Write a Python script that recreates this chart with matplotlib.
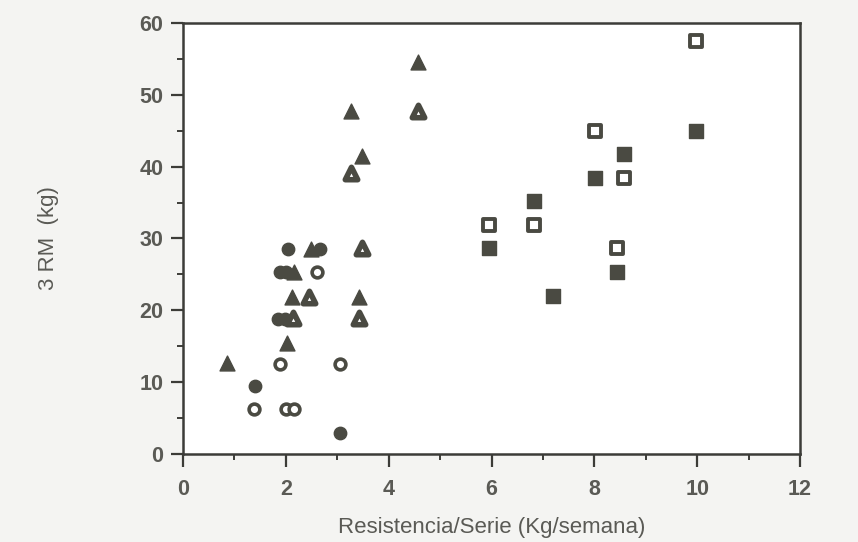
import matplotlib.pyplot as plt
from matplotlib.ticker import MultipleLocator

plt.rcParams['font.family'] = ['Liberation Sans', 'DejaVu Sans']

ink = '#4a4a42'
txt = '#5a5a55'

# filled circles
fc_x = [2.04, 2.67, 1.88, 2.0, 1.85, 1.98, 1.40, 3.05]
fc_y = [28.6, 28.6, 25.3, 25.3, 18.8, 18.8, 9.4, 2.9]
# open circles
oc_x = [2.6, 1.89, 3.05, 1.38, 2.0, 2.15]
oc_y = [25.3, 12.5, 12.5, 6.3, 6.3, 6.3]
# filled triangles
ft_x = [0.86, 4.57, 3.26, 3.48, 3.42, 2.02, 2.49, 2.15, 2.12]
ft_y = [12.6, 54.5, 47.8, 41.5, 21.9, 15.4, 28.6, 25.3, 21.9]
# open triangles
ot_x = [4.57, 3.26, 3.48, 3.42, 2.45, 2.13]
ot_y = [47.8, 39.1, 28.7, 18.9, 21.9, 18.9]
# filled squares
fs_x = [9.98, 8.58, 8.02, 6.82, 5.96, 8.44, 7.19]
fs_y = [44.9, 41.7, 38.4, 35.2, 28.7, 25.3, 22.0]
# open squares
os_x = [9.98, 8.02, 8.57, 5.96, 6.82, 8.44]
os_y = [57.5, 45.0, 38.4, 31.9, 31.9, 28.7]

fig = plt.figure(figsize=(8.58, 5.42), dpi=100, facecolor='#f4f4f2')
ax = fig.add_axes([0.2133, 0.1624, 0.7191, 0.7952])
ax.set_facecolor('white')

ax.scatter(fc_x, fc_y, s=80, marker='o', c=ink, edgecolors=ink, linewidths=1, zorder=3)
ax.scatter(oc_x, oc_y, s=60, marker='o', c='white', edgecolors=ink, linewidths=2.6, zorder=3)
ax.scatter(ft_x, ft_y, s=115, marker='^', c=ink, edgecolors=ink, linewidths=1, zorder=3)
ax.scatter(ot_x, ot_y, s=80, marker='^', c='white', edgecolors=ink, linewidths=4, zorder=3)
ax.scatter(fs_x, fs_y, s=110, marker='s', c=ink, edgecolors=ink, linewidths=1, zorder=3)
ax.scatter(os_x, os_y, s=85, marker='s', c='white', edgecolors=ink, linewidths=2.8, zorder=3)

ax.set_xlim(0, 12)
ax.set_ylim(0, 60)
ax.xaxis.set_major_locator(MultipleLocator(2))
ax.xaxis.set_minor_locator(MultipleLocator(1))
ax.yaxis.set_major_locator(MultipleLocator(10))
ax.yaxis.set_minor_locator(MultipleLocator(5))

for s in ax.spines.values():
    s.set_color('#3c3c38')
    s.set_linewidth(1.8)

ax.tick_params(which='major', direction='out', length=9, width=1.6, color='#3c3c38',
               labelsize=15.5, labelcolor=txt)
ax.tick_params(axis='x', which='major', pad=9)
ax.tick_params(axis='y', which='major', pad=5)
ax.tick_params(which='minor', direction='out', length=4, width=1.4, color='#3c3c38')
for lab in ax.get_xticklabels() + ax.get_yticklabels():
    lab.set_fontweight('bold')

ax.set_xlabel('Resistencia/Serie (Kg/semana)', fontsize=16, color=txt, labelpad=12)
ax.set_ylabel('3 RM  (kg)', fontsize=16, color=txt, labelpad=58)

fig.savefig('out.png', dpi=100, facecolor=fig.get_facecolor())
